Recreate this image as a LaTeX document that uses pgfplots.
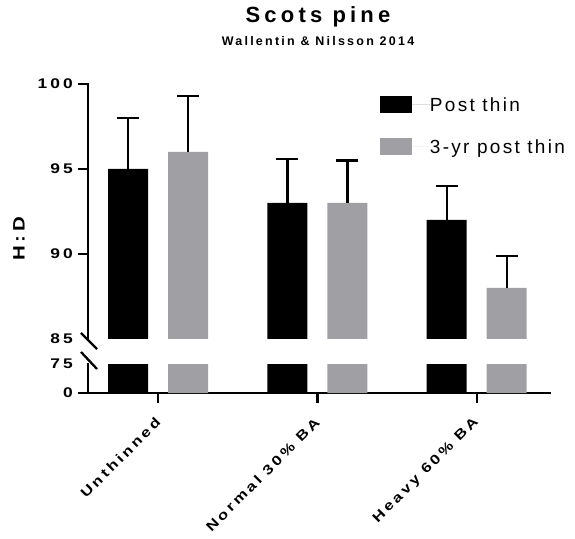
\documentclass[border=0pt]{standalone}
\usepackage{fontspec}
\setmainfont{Liberation Sans}
\usepackage{pgfplots}
\usepackage{pgfplotstable}
\pgfplotsset{compat=1.18}

\newfontfamily\tickfont[FakeStretch=1.24, LetterSpace=22]{Liberation Sans Bold}
\newfontfamily\titlefont[LetterSpace=19]{Liberation Sans Bold}
\newfontfamily\subfont[LetterSpace=18]{Liberation Sans Bold}
\newfontfamily\legfont[LetterSpace=12]{Liberation Sans}

\definecolor{prismgray}{HTML}{A0A0A4}

\pgfplotstableread{
x y e
0 95 3.0
1 93 2.6
2 92 2.0
}\postthin
\pgfplotstableread{
x y e
0 96 3.3
1 93 2.5
2 88 1.9
}\threeyr

\pgfplotsset{
  brokenaxis/.style={
    scale only axis,
    width=462pt,
    xmin=-0.44, xmax=2.46,
    axis line style={line width=2.3pt, line cap=rect},
    tick style={line width=2.3pt, black},
    tick align=outside,
    major tick length=10pt,
    /pgf/number format/assume math mode=true,
    yticklabel style={font=\fontsize{14}{16}\tickfont, inner sep=0pt, xshift=-5pt},
    extra y tick style={major tick length=0pt, tick label style={xshift=-10pt}},
  },
  errstyle/.style={
    error bars/.cd, y dir=plus, y explicit,
    error bar style={line width=2.3pt, black, solid},
    error mark options={rotate=90, line width=2.3pt, mark size=11pt, black, solid},
  },
}

\begin{document}
\begin{tikzpicture}
\path (0,0) rectangle (575pt,538pt);

% upper segment of the broken y axis: 85 to 100
\begin{axis}[
  brokenaxis,
  name=upper,
  at={(88pt,199pt)}, anchor=south west,
  height=255pt,
  ymin=85, ymax=100,
  axis x line=none,
  axis y line*=left,
  ytick={90,95,100},
  yticklabels={90,95,100},
  extra y ticks={85},
  extra y tick labels={85},
  xtick=\empty,
  ybar, bar width=40pt,
  legend style={
    at={(axis description cs:0.632,0.953)}, anchor=north west,
    draw=none, fill=none, inner sep=0pt, outer sep=0pt,
    row sep=25pt, column sep=0pt,
    nodes={inner sep=0pt, text height=14pt, text depth=0pt,
           font=\fontsize{19}{22}\legfont},
  },
  legend cell align=left,
  legend image code/.code={\fill[#1] (0pt,-8.5pt) rectangle (32pt,8.5pt); \path (0pt,0pt) -- (50pt,0pt);},
]
\addplot[fill=black, draw=none, bar shift=-30pt, errstyle]
  table[x=x, y=y, y error=e]{\postthin};
\addlegendentry{Post thin}
\addplot[fill=prismgray, draw=none, bar shift=30pt, errstyle]
  table[x=x, y=y, y error=e]{\threeyr};
\addlegendentry{3-yr post thin}
\end{axis}

% lower segment: 0 to 75, with the category axis
\begin{axis}[
  brokenaxis,
  name=lower,
  at={(88pt,145pt)}, anchor=south west,
  height=29pt,
  ymin=0, ymax=75,
  axis x line*=bottom,
  axis y line*=left,
  ytick={0},
  yticklabels={0},
  extra y ticks={75},
  extra y tick labels={75},
  xtick={0,1,2},
  xticklabels={Unthinned, Normal 30\% BA, Heavy 60\% BA},
  xticklabel style={font=\fontsize{13.5}{16}\tickfont, rotate=45,
                    anchor=east, inner sep=0pt, xshift=-12pt, yshift=-12pt},
  ybar, bar width=40pt,
]
\addplot[fill=black, draw=none, bar shift=-30pt] table[x=x, y=y]{\postthin};
\addplot[fill=prismgray, draw=none, bar shift=30pt] table[x=x, y=y]{\threeyr};
\end{axis}

% break marks on the y axis
\draw[line width=2.3pt] ([shift={(-7pt,6pt)}]upper.south west) -- ([shift={(9pt,-10pt)}]upper.south west);
\draw[line width=2.3pt] ([shift={(-7pt,12pt)}]lower.north west) -- ([shift={(9pt,-5pt)}]lower.north west);

% axis title and headings
\node[rotate=90, font=\fontsize{16.5}{18}\tickfont] at (19pt,299pt) {H:D};
\node[anchor=base, font=\fontsize{22}{26}\titlefont] at (318pt,515pt) {Scots pine};
\node[anchor=base, font=\fontsize{12.5}{15}\subfont] at (318pt,492.3pt) {Wallentin \& Nilsson 2014};
\end{tikzpicture}
\end{document}
